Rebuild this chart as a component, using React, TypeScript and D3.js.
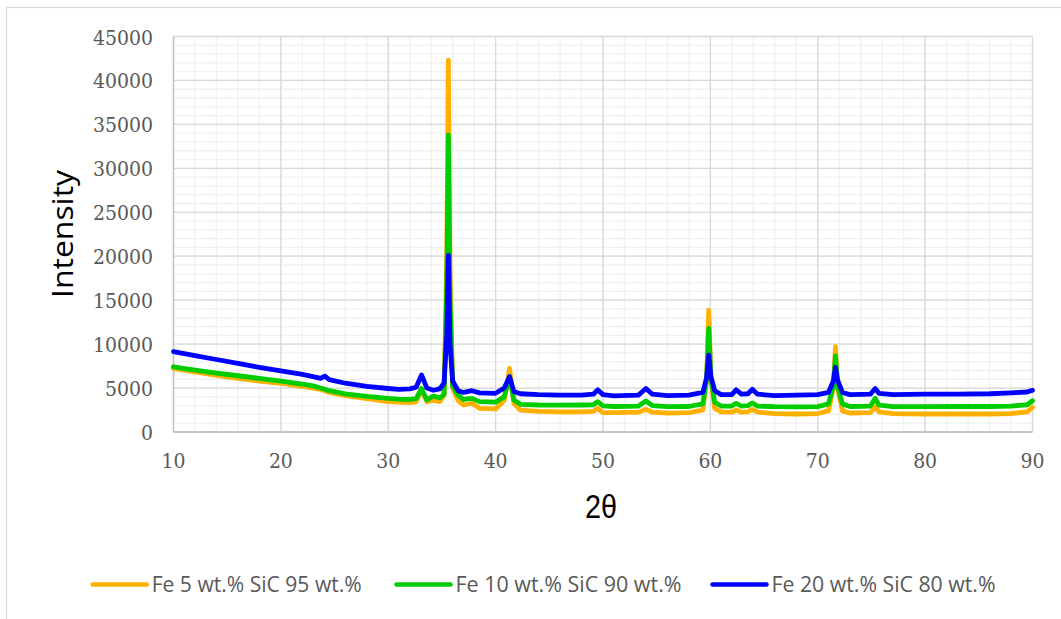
import * as d3 from 'd3';

// 2θ sample positions (degrees)
const twoTheta = [
  10, 12, 14, 16, 18, 20, 22, 23, 23.7, 24.1, 24.5, 26, 28, 30, 31, 32, 32.6, 33.1, 33.6, 34.2,
  34.8, 35.2, 35.45, 35.6, 35.75, 36.0, 36.5, 37, 37.8, 38.5, 40, 40.8, 41.3, 41.7, 42.3, 44,
  46, 48, 49.1, 49.5, 50, 51, 53.3, 54.0, 54.6, 56, 58, 59.3, 59.65, 59.85, 60.05, 60.4, 61, 62,
  62.4, 62.9, 63.5, 63.9, 64.4, 66, 68, 70, 71.0, 71.45, 71.65, 71.85, 72.3, 73, 74.9, 75.35,
  75.7, 77, 80, 83, 86, 88, 89.5, 90,
];

const fe5 = [
  7230, 6850, 6450, 6100, 5800, 5530, 5200, 5000, 4850, 4700, 4500, 4150, 3800, 3450, 3400, 3350,
  3450, 4700, 3450, 3600, 3450, 4200, 20000, 42300, 18000, 5000, 3600, 3070, 3260, 2690, 2620,
  3600, 7230, 3260, 2500, 2350, 2300, 2300, 2350, 2690, 2200, 2200, 2250, 2580, 2250, 2150, 2200,
  2500, 6000, 13850, 6000, 2700, 2300, 2250, 2500, 2250, 2300, 2580, 2250, 2100, 2050, 2100,
  2400, 5000, 9700, 5000, 2400, 2150, 2200, 2880, 2300, 2100, 2050, 2050, 2050, 2100, 2300, 2800,
];

const fe10 = [
  7420, 7050, 6700, 6400, 6100, 5800, 5450, 5250, 5000, 4850, 4700, 4350, 4050, 3830, 3750, 3700,
  3800, 4960, 3650, 4090, 3860, 4300, 16000, 33800, 15000, 5200, 4200, 3700, 3830, 3450, 3400,
  4000, 6300, 3650, 3150, 3070, 3050, 3070, 3100, 3450, 2980, 2900, 2950, 3520, 3000, 2880, 2900,
  3200, 6000, 11800, 6200, 3400, 2950, 2950, 3260, 2950, 3000, 3300, 2950, 2880, 2850, 2880,
  3200, 5200, 8650, 5200, 3200, 2900, 2950, 3830, 3050, 2880, 2880, 2900, 2900, 2950, 3100, 3560,
];

const fe20 = [
  9150, 8700, 8250, 7800, 7350, 6950, 6550, 6300, 6100, 6350, 5950, 5550, 5200, 4950, 4850, 4900,
  5100, 6500, 5000, 4750, 4900, 5600, 11000, 20100, 10000, 5800, 4700, 4500, 4700, 4450, 4400,
  5000, 6300, 4600, 4350, 4250, 4200, 4200, 4300, 4800, 4250, 4100, 4200, 4950, 4300, 4150, 4200,
  4500, 6200, 8750, 6300, 4700, 4250, 4250, 4800, 4300, 4350, 4850, 4300, 4150, 4200, 4250,
  4500, 5800, 7350, 5900, 4500, 4250, 4300, 4950, 4400, 4250, 4300, 4300, 4350, 4450, 4550, 4750,
];

const seriesNames = ['Fe 5 wt.% SiC 95 wt.%', 'Fe 10 wt.% SiC 90 wt.%', 'Fe 20 wt.% SiC 80 wt.%'];
const seriesColors = ['#FFB000', '#00CC00', '#0000FF'];
const seriesValues = [fe5, fe10, fe20];

const xTickLabels = ['10', '20', '30', '40', '50', '60', '70', '80', '90'];
const yTickLabels = ['0', '5000', '10000', '15000', '20000', '25000', '30000', '35000', '40000', '45000'];

const W = 1061;
const H = 619;
const plot = { left: 173.5, right: 1032.5, top: 36.5, bottom: 432 };
const tickFont = '"DejaVu Serif", "Liberation Serif", serif';

const legendItems = [
  { x: 92.7, textLen: 210 },
  { x: 396.5, textLen: 226 },
  { x: 712.5, textLen: 224 },
];

export default function App() {
  const x = d3.scaleLinear().domain([10, 90]).range([plot.left, plot.right]);
  const y = d3.scaleLinear().domain([0, 45000]).range([plot.bottom, plot.top]);

  const line = d3
    .line<number>()
    .x((_, i) => x(twoTheta[i]))
    .y((d) => y(d))
    .curve(d3.curveLinear);

  const xMinor = d3.range(10, 90.01, 2);
  const yMinor = d3.range(0, 45001, 1000);

  return (
    <svg
      width={W}
      height={H}
      style={{ position: 'absolute', left: 0, top: 0, background: '#fff' }}
    >
      <rect x={6.5} y={7.5} width={1060} height={620} fill="#fff" stroke="#d9d9d9" strokeWidth={1.3} />

      {/* minor grid */}
      {yMinor.map((v) => (
        <line key={'ym' + v} x1={plot.left} x2={plot.right} y1={y(v)} y2={y(v)} stroke="#f0f0f0" strokeWidth={1.3} />
      ))}
      {xMinor.map((v) => (
        <line key={'xm' + v} x1={x(v)} x2={x(v)} y1={plot.top} y2={plot.bottom} stroke="#f0f0f0" strokeWidth={1.3} />
      ))}

      {/* major grid */}
      {yTickLabels.map((t) => (
        <line key={'yg' + t} x1={plot.left} x2={plot.right} y1={y(+t)} y2={y(+t)} stroke="#d9d9d9" strokeWidth={1.3} />
      ))}
      {xTickLabels.map((t) => (
        <line key={'xg' + t} x1={x(+t)} x2={x(+t)} y1={plot.top} y2={plot.bottom} stroke="#d9d9d9" strokeWidth={1.3} />
      ))}
      <line x1={plot.left} x2={plot.right} y1={plot.bottom} y2={plot.bottom} stroke="#bfbfbf" strokeWidth={1.3} />
      <line x1={plot.left} x2={plot.left} y1={plot.top} y2={plot.bottom} stroke="#bfbfbf" strokeWidth={1.3} />

      {/* series */}
      {seriesValues.map((vals, i) => (
        <path
          key={seriesNames[i]}
          d={line(vals) ?? ''}
          fill="none"
          stroke={seriesColors[i]}
          strokeWidth={4.8}
          strokeLinejoin="round"
          strokeLinecap="round"
        />
      ))}

      {/* y tick labels */}
      {yTickLabels.map((t) => (
        <text
          key={'yl' + t}
          x={153}
          y={y(+t) + 8}
          textAnchor="end"
          fontFamily={tickFont}
          fontSize={21}
          textLength={t.length * 12}
          lengthAdjust="spacingAndGlyphs"
          fill="#595959"
        >
          {t}
        </text>
      ))}

      {/* x tick labels */}
      {xTickLabels.map((t) => (
        <text
          key={'xl' + t}
          x={x(+t)}
          y={468}
          textAnchor="middle"
          fontFamily={tickFont}
          fontSize={21}
          textLength={t.length * 12}
          lengthAdjust="spacingAndGlyphs"
          fill="#595959"
        >
          {t}
        </text>
      ))}

      {/* axis titles */}
      <text
        transform="translate(73,234) rotate(-90)"
        textAnchor="middle"
        fontFamily="'Open Sans', sans-serif"
        fontSize={30}
        textLength={128}
        lengthAdjust="spacingAndGlyphs"
        fill="#000"
      >
        Intensity
      </text>
      <text
        x={601}
        y={518}
        textAnchor="middle"
        fontFamily="'Liberation Sans', sans-serif"
        fontSize={34}
        textLength={32}
        lengthAdjust="spacingAndGlyphs"
        fill="#000"
      >
        2θ
      </text>

      {/* legend */}
      {legendItems.map((it, i) => (
        <g key={'lg' + i}>
          <line x1={it.x} x2={it.x + 54} y1={584.5} y2={584.5} stroke={seriesColors[i]} strokeWidth={4.5} strokeLinecap="round" />
          <text
            x={it.x + 59}
            y={591.5}
            fontFamily="'Open Sans', sans-serif"
            fontSize={21}
            textLength={it.textLen}
            lengthAdjust="spacingAndGlyphs"
            fill="#595959"
          >
            {seriesNames[i]}
          </text>
        </g>
      ))}
    </svg>
  );
}
